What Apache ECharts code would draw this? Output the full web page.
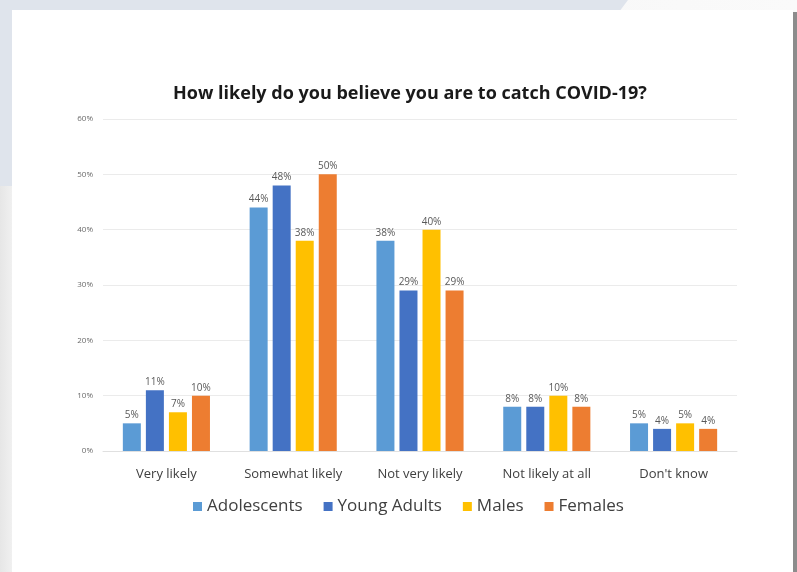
<!DOCTYPE html>
<html>
<head>
<meta charset="utf-8">
<script src="https://cdn.jsdelivr.net/npm/echarts@6/dist/echarts.min.js"></script>
<style>
  html, body { margin: 0; padding: 0; width: 797px; height: 572px; overflow: hidden; }
  body { position: relative; background: #eeeeee; }
  #bgTop { position: absolute; left: 0; top: 0; width: 797px; height: 186px; background: #dfe4ec; }
  #bgTopRight { position: absolute; left: 0; top: 0; width: 797px; height: 40px;
    background: linear-gradient(90deg, #f3f3f3, #fafafa);
    clip-path: polygon(628px 0, 797px 0, 797px 40px, 598px 40px); }
  #bgLeft { position: absolute; left: 0; top: 186px; width: 12px; height: 386px;
    background: linear-gradient(90deg, #e6e6e6, #f0f0f0); }
  #card { position: absolute; left: 12px; top: 10px; width: 781px; height: 562px; background: #ffffff; }
  #edge { position: absolute; left: 793px; top: 12px; width: 4px; height: 560px; background: #8c8c8c; }
  #chart { position: absolute; left: 0; top: 0; width: 797px; height: 572px; }
</style>
</head>
<body>
<div id="bgTop"></div>
<div id="bgTopRight"></div>
<div id="bgLeft"></div>
<div id="card"></div>
<div id="edge"></div>
<div id="chart"></div>
<script>
const categories = ['Very likely', 'Somewhat likely', 'Not very likely', 'Not likely at all', "Don't know"];
const seriesNames = ['Adolescents', 'Young Adults', 'Males', 'Females'];
const adolescents = [5, 44, 38, 8, 5];
const youngAdults = [11, 48, 29, 8, 4];
const males = [7, 38, 40, 10, 5];
const females = [10, 50, 29, 8, 4];
const yTicks = [0, 10, 20, 30, 40, 50, 60];
const colors = ['#5B9BD5', '#4472C4', '#FFC000', '#ED7D31'];

const seriesData = [adolescents, youngAdults, males, females];
const font = 'Open Sans, Liberation Sans, sans-serif';

const chart = echarts.init(document.getElementById('chart'), null, { renderer: 'canvas' });
chart.setOption({
  backgroundColor: 'transparent',
  animation: false,
  title: {
    text: 'How likely do you believe you are to catch COVID-19?',
    left: 405, top: 80, textAlign: 'center',
    textStyle: { fontFamily: font, fontSize: 18, fontWeight: 'bold', color: '#1a1a1a' }
  },
  legend: {
    data: seriesNames,
    left: 188, top: 493,
    itemWidth: 9, itemHeight: 9, itemGap: 21,
    icon: 'rect',
    textStyle: { fontFamily: font, fontSize: 17, color: '#404040', padding: [0, 0, 0, 0] }
  },
  grid: { left: 103, right: 797 - 737, top: 119, bottom: 572 - 451, containLabel: false },
  xAxis: {
    type: 'category', data: categories,
    axisLine: { show: true, lineStyle: { color: '#e0e0e0' } },
    axisTick: { show: false },
    axisLabel: { interval: 0, fontFamily: font, fontSize: 13, color: '#404040', margin: 17 }
  },
  yAxis: {
    type: 'value', min: yTicks[0], max: yTicks[yTicks.length - 1], interval: 10,
    axisLine: { show: false }, axisTick: { show: false },
    splitLine: { lineStyle: { color: '#ebebeb' } },
    axisLabel: { fontFamily: font, fontSize: 8, color: '#6a6a6a', margin: 10, formatter: v => v + '%' }
  },
  series: seriesNames.map((name, i) => ({
    name, type: 'bar', data: seriesData[i],
    barWidth: 18, barGap: '28%',
    itemStyle: { color: colors[i] },
    label: { show: true, position: 'top', distance: 3, formatter: p => p.value + '%',
      fontFamily: font, fontSize: 10, color: '#595959' }
  }))
});
</script>
</body>
</html>
